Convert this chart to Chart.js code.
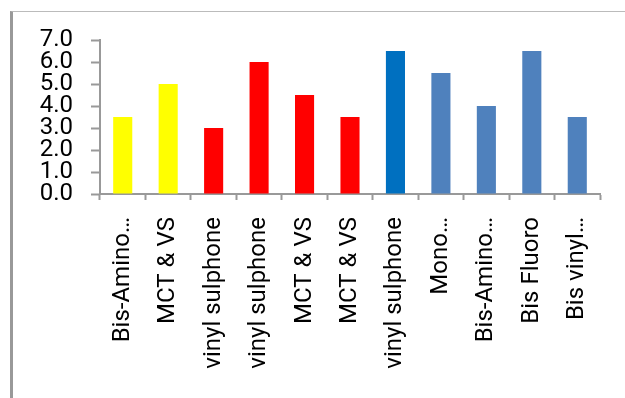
<!DOCTYPE html>
<html>
<head>
<meta charset="utf-8">
<script src="https://cdn.jsdelivr.net/npm/chart.js@4"></script>
<style>
  body { margin: 0; background: #fff; }
  .frame {
    position: absolute;
    left: 10px;
    top: 11px;
    width: 640px;
    height: 400px;
    border-left: 3px solid #999;
    border-top: 1px solid #bbb;
  }
  #myChart { position: absolute; left: 0; top: 0; }
</style>
</head>
<body>
<div class="frame"></div>
<canvas id="myChart" width="625" height="398"></canvas>
<script>
const categories = ['Bis-Amino…', 'MCT & VS', 'vinyl sulphone', 'vinyl sulphone', 'MCT & VS', 'MCT & VS',
  'vinyl sulphone', 'Mono…', 'Bis-Amino…', 'Bis Fluoro', 'Bis vinyl…'];
const values = [3.5, 5.0, 3.0, 6.0, 4.5, 3.5, 6.5, 5.5, 4.0, 6.5, 3.5];
const barColors = ['#ffff00', '#ffff00', '#ff0000', '#ff0000', '#ff0000', '#ff0000',
  '#0070c0', '#4f81bd', '#4f81bd', '#4f81bd', '#4f81bd'];
const yTicks = [0, 1, 2, 3, 4, 5, 6, 7];

const font = { family: 'Roboto', size: 24 };

const ctx = document.getElementById('myChart');

new Chart(ctx, {
  type: 'bar',
  data: {
    labels: categories,
    datasets: [{
      data: values,
      backgroundColor: barColors,
      barPercentage: 0.42,
      categoryPercentage: 1,
    }]
  },
  options: {
    responsive: false,
    animation: false,
    layout: {
      padding: { top: 40, right: 25, left: 0, bottom: 0 }
    },
    plugins: {
      legend: { display: false },
      tooltip: { enabled: false }
    },
    scales: {
      x: {
        afterFit: (scale) => { scale.height = 204; },
        border: { color: '#999', width: 2 },
        grid: {
          drawOnChartArea: false,
          tickLength: 6,
          tickWidth: 2,
          tickColor: '#999',
        },
        ticks: {
          color: '#000',
          font: font,
          minRotation: 90,
          maxRotation: 90,
          padding: 17,
          autoSkip: false,
        }
      },
      y: {
        min: 0,
        max: 7,
        afterFit: (scale) => { scale.width = 100; },
        afterBuildTicks: (scale) => { scale.ticks = yTicks.map((v) => ({ value: v })); },
        border: { color: '#999', width: 2 },
        grid: {
          drawOnChartArea: false,
          tickLength: 9,
          tickWidth: 2,
          tickColor: '#999',
        },
        ticks: {
          color: '#000',
          font: font,
          padding: 18,
          autoSkip: false,
          callback: (v) => Number(v).toFixed(1),
        }
      }
    }
  }
});
</script>
</body>
</html>
